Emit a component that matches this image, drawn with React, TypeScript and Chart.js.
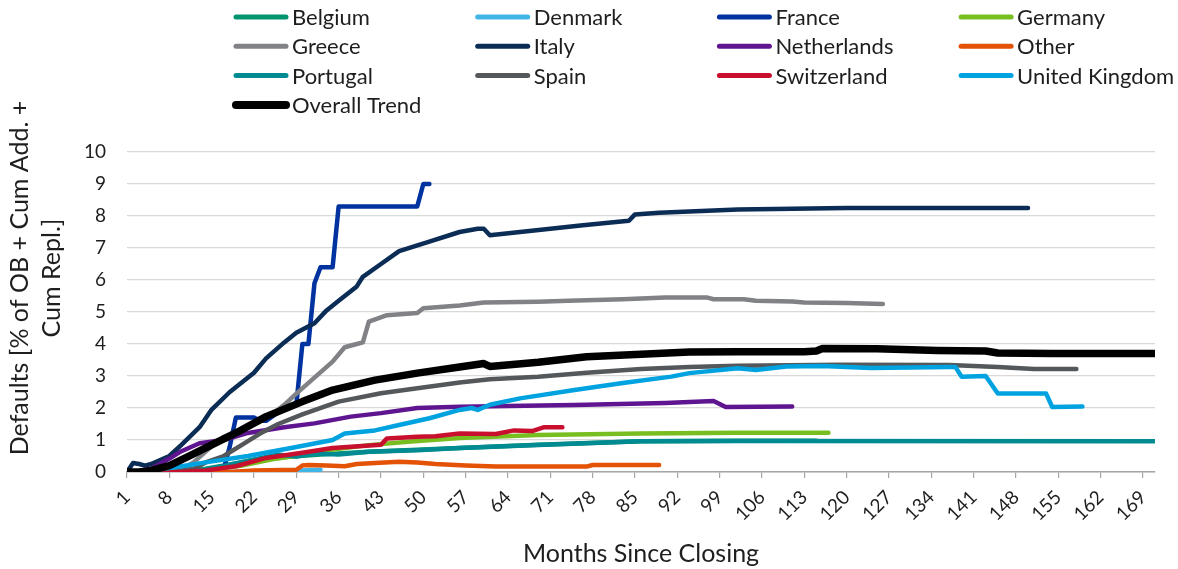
import React, { useEffect, useRef } from 'react';
import { Chart, registerables } from 'chart.js';

Chart.register(...registerables);

// ---- Data (months since closing, default %) ----
const xTickMonths = [1, 8, 15, 22, 29, 36, 43, 50, 57, 64, 71, 78, 85, 92, 99, 106, 113, 120, 127, 134, 141, 148, 155, 162, 169];
const monthMin = 1;
const monthMax = 171;
const yMin = 0;
const yMax = 10;

type Pt = [number, number];

const belgium: Pt[] = [[1, 0], [10, 0], [14, 0.1], [20, 0.3], [26, 0.45], [33, 0.55], [41, 0.63], [56, 0.75], [69, 0.85], [86, 0.96], [102, 0.98], [115, 0.98]];
const denmark: Pt[] = [[1, 0], [29, 0], [30, 0.05], [33, 0.07]];
const france: Pt[] = [[1, 0], [16, 0], [17, 0.1], [18, 0.8], [19, 1.7], [22, 1.7], [23, 1.6], [24, 1.6], [27, 2.0], [29, 2.1], [30, 4.0], [31, 4.0], [32, 5.9], [33, 6.4], [35, 6.4], [36, 8.3], [49, 8.3], [50, 9.0], [51, 9.0]];
const germany: Pt[] = [[1, 0], [12, 0], [16, 0.1], [20, 0.2], [25, 0.4], [30, 0.53], [35, 0.7], [41, 0.84], [48, 0.95], [56, 1.06], [69, 1.16], [86, 1.2], [102, 1.23], [117, 1.23]];
const greece: Pt[] = [[1, 0], [9, 0], [12, 0.3], [15, 0.8], [17, 1.1], [20, 1.3], [23, 1.6], [25, 1.8], [27, 2.1], [29, 2.45], [32, 2.95], [35, 3.45], [37, 3.9], [39, 4.0], [40, 4.05], [41, 4.7], [44, 4.9], [49, 4.97], [50, 5.12], [56, 5.2], [60, 5.3], [69, 5.32], [74, 5.35], [83, 5.4], [90, 5.45], [97, 5.45], [98, 5.4], [103, 5.4], [105, 5.35], [111, 5.33], [113, 5.3], [120, 5.28], [126, 5.25]];
const italy: Pt[] = [[1, 0], [2, 0.28], [3, 0.25], [4, 0.2], [5, 0.25], [8, 0.5], [10, 0.85], [13, 1.4], [15, 1.95], [18, 2.5], [22, 3.1], [24, 3.55], [27, 4.05], [29, 4.35], [32, 4.65], [34, 5.05], [36, 5.35], [39, 5.8], [40, 6.1], [43, 6.5], [46, 6.9], [51, 7.2], [56, 7.5], [59, 7.6], [60, 7.6], [61, 7.4], [66, 7.5], [71, 7.6], [76, 7.7], [81, 7.8], [84, 7.85], [85, 8.05], [89, 8.1], [95, 8.15], [102, 8.2], [120, 8.25], [150, 8.25]];
const netherlands: Pt[] = [[1, 0], [3, 0.03], [5, 0.1], [8, 0.42], [10, 0.65], [13, 0.9], [17, 1.0], [21, 1.22], [27, 1.4], [32, 1.52], [38, 1.73], [43, 1.84], [49, 2.0], [56, 2.04], [75, 2.09], [90, 2.16], [98, 2.22], [100, 2.03], [111, 2.05]];
const other: Pt[] = [[1, 0], [18, 0], [22, 0.05], [29, 0.07], [30, 0.2], [31, 0.22], [34, 0.2], [37, 0.18], [39, 0.25], [42, 0.28], [46, 0.32], [49, 0.3], [52, 0.25], [57, 0.2], [62, 0.17], [77, 0.17], [78, 0.22], [89, 0.22]];
const portugal: Pt[] = [[1, 0], [12, 0], [16, 0.15], [21, 0.35], [26, 0.55], [29, 0.48], [32, 0.58], [36, 0.55], [41, 0.63], [49, 0.68], [56, 0.75], [69, 0.84], [86, 0.96], [102, 0.97], [171, 0.96]];
const spain: Pt[] = [[1, 0], [9, 0], [12, 0.1], [14, 0.3], [17, 0.5], [20, 0.85], [23, 1.2], [26, 1.5], [30, 1.8], [36, 2.2], [43, 2.46], [49, 2.62], [53, 2.72], [56, 2.8], [61, 2.9], [69, 2.98], [77, 3.1], [86, 3.22], [94, 3.28], [102, 3.32], [119, 3.35], [137, 3.34], [145, 3.28], [151, 3.22], [158, 3.22]];
const switzerland: Pt[] = [[1, 0], [10, 0], [14, 0.05], [19, 0.18], [24, 0.44], [30, 0.6], [35, 0.75], [43, 0.85], [44, 1.05], [49, 1.1], [52, 1.12], [56, 1.2], [62, 1.19], [65, 1.3], [68, 1.28], [70, 1.4], [73, 1.4]];
const unitedKingdom: Pt[] = [[1, 0], [5, 0.05], [9, 0.15], [14, 0.3], [21, 0.5], [29, 0.78], [35, 1.0], [37, 1.2], [42, 1.3], [46, 1.47], [51, 1.68], [56, 1.94], [58, 2.0], [59, 1.94], [61, 2.1], [66, 2.3], [75, 2.56], [83, 2.78], [91, 2.98], [94, 3.09], [102, 3.24], [105, 3.19], [110, 3.3], [116, 3.31], [124, 3.25], [137, 3.28], [138, 3.28], [139, 2.98], [143, 3.0], [145, 2.45], [153, 2.45], [154, 2.03], [159, 2.05]];
const overallTrend: Pt[] = [[1, 0], [3, 0], [5, 0.05], [8, 0.2], [11, 0.47], [15, 0.85], [19, 1.22], [24, 1.73], [30, 2.2], [35, 2.56], [42, 2.87], [49, 3.09], [56, 3.28], [60, 3.39], [61, 3.3], [69, 3.43], [77, 3.6], [86, 3.68], [94, 3.75], [102, 3.76], [113, 3.76], [115, 3.78], [116, 3.86], [125, 3.85], [135, 3.8], [143, 3.78], [145, 3.72], [154, 3.7], [171, 3.7]];

const seriesNames = ['Belgium', 'Denmark', 'France', 'Germany', 'Greece', 'Italy', 'Netherlands', 'Other', 'Portugal', 'Spain', 'Switzerland', 'United Kingdom', 'Overall Trend'];
const seriesData = [belgium, denmark, france, germany, greece, italy, netherlands, other, portugal, spain, switzerland, unitedKingdom, overallTrend];
const seriesColors = ['#00956e', '#41b6e6', '#0032a0', '#78be20', '#808285', '#0b2d55', '#5f1590', '#e35205', '#008a92', '#54585a', '#c8102e', '#00a3e0', '#000000'];

const yTitleLines = ['Defaults [% of OB + Cum Add. +', 'Cum Repl.]'];
const xTitle = 'Months Since Closing';

const FONT = 'Lato, "Noto Sans", sans-serif';
const TEXT = '#1e1e1e';

const gridLegendPlugin = {
  id: 'gridLegend',
  afterDraw(chart: any) {
    const ctx = chart.ctx as CanvasRenderingContext2D;
    ctx.save();
    chart.data.datasets.forEach((ds: any, i: number) => {
      const col = i % 4;
      const row = Math.floor(i / 4);
      const x0 = 233 + col * 241.7;
      const y = 17 + row * 29.3;
      ctx.strokeStyle = ds.borderColor;
      ctx.lineWidth = ds.label === 'Overall Trend' ? 8 : 5;
      ctx.lineCap = 'round';
      ctx.beginPath();
      ctx.moveTo(x0 + 3, y);
      ctx.lineTo(x0 + 53, y);
      ctx.stroke();
      ctx.fillStyle = TEXT;
      ctx.font = `22px ${FONT}`;
      ctx.textBaseline = 'middle';
      ctx.textAlign = 'left';
      ctx.fillText(ds.label, x0 + 59, y + 1);
    });
    // Y axis title (two lines)
    ctx.font = `25px ${FONT}`;
    ctx.fillStyle = TEXT;
    ctx.textAlign = 'center';
    ctx.textBaseline = 'middle';
    const xs = [20, 52];
    yTitleLines.forEach((t, i) => {
      ctx.save();
      ctx.translate(xs[i], 278);
      ctx.rotate(-Math.PI / 2);
      ctx.fillText(t, 0, 0);
      ctx.restore();
    });
    ctx.restore();
  },
};

export default function App() {
  const ref = useRef<HTMLCanvasElement | null>(null);
  useEffect(() => {
    document.body.style.margin = '0';
    if (!ref.current) return;
    const n = seriesNames.length;
    const chart = new Chart(ref.current, {
      type: 'line',
      data: {
        datasets: seriesNames.map((name, i) => ({
          label: name,
          data: seriesData[i].map(([x, y]) => ({ x, y })),
          borderColor: seriesColors[i],
          backgroundColor: seriesColors[i],
          borderWidth: name === 'Overall Trend' ? 7.5 : 4.5,
          pointRadius: 0,
          tension: 0,
          fill: false,
          borderCapStyle: 'round',
          borderJoinStyle: 'round',
          order: n - i,
        })),
      },
      options: {
        responsive: false,
        animation: false,
        devicePixelRatio: 1,
        layout: { padding: { top: 152, right: 23, bottom: 0, left: 0 } },
        plugins: {
          legend: { display: false },
          tooltip: { enabled: false },
          title: { display: false },
        },
        scales: {
          x: {
            type: 'linear',
            min: monthMin,
            max: monthMax,
            afterBuildTicks: (scale: any) => {
              scale.ticks = xTickMonths.map((v) => ({ value: v }));
            },
            afterFit: (scale: any) => {
              scale.height = 97;
            },
            ticks: {
              autoSkip: false,
              maxRotation: 45,
              minRotation: 45,
              padding: 8,
              color: TEXT,
              font: { family: FONT, size: 19 },
              callback: (v: any) => String(v),
            },
            grid: { drawOnChartArea: false, drawTicks: true, tickLength: 6, color: '#a6a6a6', lineWidth: 1.2 },
            border: { display: true, color: '#a6a6a6', width: 1.5 },
            title: {
              display: true,
              text: xTitle,
              color: TEXT,
              font: { family: FONT, size: 25 },
              padding: { top: 0, bottom: 0 },
            },
          },
          y: {
            min: yMin,
            max: yMax,
            afterFit: (scale: any) => {
              scale.width = 127;
            },
            ticks: {
              stepSize: 1,
              padding: 21,
              color: TEXT,
              font: { family: FONT, size: 19 },
            },
            grid: { drawTicks: false, color: '#d9d9d9', lineWidth: 1.2 },
            border: { display: false },
          },
        },
      },
      plugins: [gridLegendPlugin],
    } as any);
    return () => chart.destroy();
  }, []);
  return (
    <div style={{ width: 1178, height: 569, position: 'relative' }}>
      <canvas ref={ref} width={1178} height={569} style={{ display: 'block' }} />
    </div>
  );
}
